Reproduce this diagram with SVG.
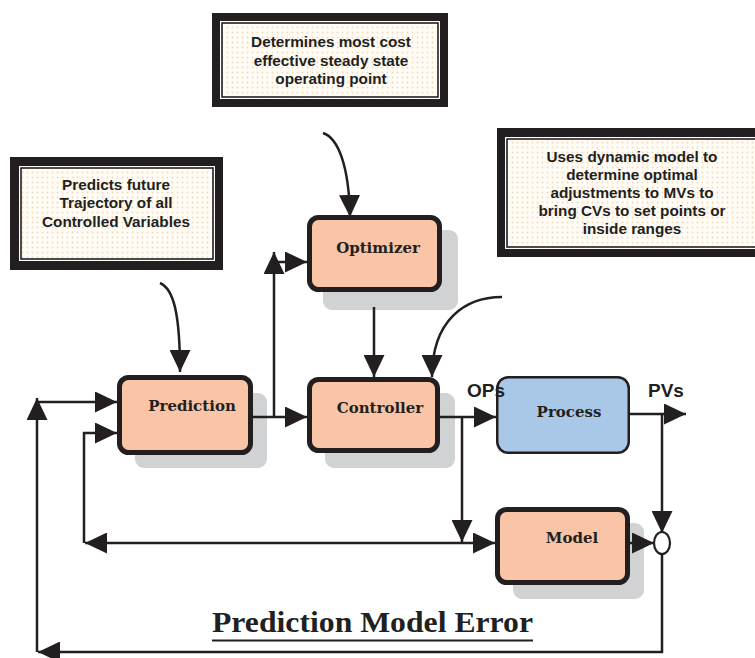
<svg xmlns="http://www.w3.org/2000/svg" width="755" height="658" viewBox="0 0 755 658">
  <defs>
    <pattern id="dots" width="5" height="5" patternUnits="userSpaceOnUse">
      <rect width="5" height="5" fill="#fffcf6"/>
      <circle cx="2.5" cy="2.5" r="0.9" fill="#f4d8b6"/>
    </pattern>
    <marker id="ah" markerUnits="userSpaceOnUse" markerWidth="22" markerHeight="21" refX="22" refY="10.5" orient="auto-start-reverse" viewBox="0 0 22 21">
      <path d="M0,0 L22,10.5 L0,21 Z" fill="#231f20"/>
    </marker>
    <style>
      .frame { fill: #231f20; }
      .gap { fill: #ffffff; }
      .inner { fill: url(#dots); stroke: #231f20; stroke-width: 1.6; }
      .note { font-family: "Liberation Sans", Arial, sans-serif; font-weight: bold; font-size: 15.3px; fill: #231f20; text-anchor: middle; }
      .shadow { fill: #d1d2d4; }
      .box { fill: #fac5a6; stroke: #231f20; stroke-width: 5; }
      .proc { fill: #a9c8e7; stroke: #231f20; stroke-width: 2.5; }
      .lbl { font-family: "DejaVu Serif", "Liberation Serif", serif; font-weight: bold; font-size: 15px; fill: #231f20; text-anchor: middle; }
      .sig { font-family: "Liberation Sans", Arial, sans-serif; font-weight: bold; font-size: 19px; fill: #231f20; }
      .wire { fill: none; stroke: #231f20; stroke-width: 2.5; }
      .arr { marker-end: url(#ah); }
    </style>
  </defs>

  <rect width="755" height="658" fill="#ffffff"/>

  <!-- callout: steady-state optimiser role -->
  <g id="note-optimizer">
    <rect class="frame" x="212" y="13" width="236" height="94"/>
    <rect class="gap" x="220" y="21" width="220" height="78"/>
    <rect class="inner" x="222" y="23" width="216" height="74"/>
    <text class="note" x="331" y="47">Determines most cost</text>
    <text class="note" x="331" y="66">effective steady state</text>
    <text class="note" x="331" y="84">operating point</text>
  </g>

  <!-- callout: prediction role -->
  <g id="note-prediction">
    <rect class="frame" x="10" y="157" width="213" height="113"/>
    <rect class="gap" x="19" y="166" width="196" height="95"/>
    <rect class="inner" x="21" y="168" width="192" height="91"/>
    <text class="note" x="116" y="190">Predicts future</text>
    <text class="note" x="116" y="208">Trajectory of all</text>
    <text class="note" x="116" y="227">Controlled Variables</text>
  </g>

  <!-- callout: controller role -->
  <g id="note-controller">
    <rect class="frame" x="497" y="128" width="273" height="129"/>
    <rect class="gap" x="505" y="137" width="260" height="112"/>
    <rect class="inner" x="507" y="139" width="256" height="108"/>
    <text class="note" x="632" y="162">Uses dynamic model to</text>
    <text class="note" x="632" y="180">determine optimal</text>
    <text class="note" x="632" y="198">adjustments to MVs to</text>
    <text class="note" x="632" y="216">bring CVs to set points or</text>
    <text class="note" x="632" y="234">inside ranges</text>
  </g>

  <!-- blocks -->
  <g id="optimizer">
    <rect class="shadow" x="323" y="230" width="135" height="80" rx="9"/>
    <rect class="box" x="309.5" y="217.5" width="130" height="72" rx="9"/>
    <text class="lbl" x="378" y="253">Optimizer</text>
  </g>

  <g id="prediction">
    <rect class="shadow" x="135" y="393" width="132" height="75" rx="9"/>
    <rect class="box" x="119.5" y="377.5" width="131" height="75" rx="9"/>
    <text class="lbl" x="192" y="411">Prediction</text>
  </g>

  <g id="controller">
    <rect class="shadow" x="325" y="393" width="130" height="75" rx="9"/>
    <rect class="box" x="309.5" y="379.5" width="128" height="71" rx="9"/>
    <text class="lbl" x="380" y="413">Controller</text>
  </g>

  <g id="process">
    <rect class="proc" x="497.25" y="377.25" width="131.5" height="75.5" rx="11"/>
    <text class="lbl" x="569" y="417">Process</text>
  </g>

  <g id="model">
    <rect class="shadow" x="513" y="523" width="131" height="76" rx="9"/>
    <rect class="box" x="497.5" y="509.5" width="130" height="73" rx="9"/>
    <text class="lbl" x="572" y="543">Model</text>
  </g>

  <g id="summing-junction">
    <ellipse cx="662" cy="543" rx="8" ry="11" fill="#ffffff" stroke="#231f20" stroke-width="2.2"/>
  </g>

  <!-- connectors -->
  <g id="connectors">
    <path class="wire arr" d="M374,307 V377"/>
    <path class="wire arr" d="M253,417 H307"/>
    <path class="wire arr" d="M274,417 V252"/>
    <path class="wire arr" d="M274,262 H307"/>
    <path class="wire arr" d="M440,417 H496"/>
    <path class="wire arr" d="M462,417 V542"/>
    <path class="wire arr" d="M85,543 H495" marker-start="url(#ah)"/>
    <path class="wire arr" d="M84,543 V433 H117"/>
    <path class="wire arr" d="M630,414 H686"/>
    <path class="wire arr" d="M662,414 V533"/>
    <path class="wire arr" d="M630,543 H654"/>
    <path class="wire arr" d="M662,554 V652 H38"/>
    <path class="wire arr" d="M37,652 V398"/>
    <path class="wire arr" d="M37,402 H117"/>
    <path class="wire arr" d="M160,283 C174,289 180,315 180,372"/>
    <path class="wire arr" d="M323,133 C338,138 349,165 350,217"/>
    <path class="wire arr" d="M502,297 C465,297 432,320 432,377"/>
  </g>

  <!-- signal labels -->
  <text class="sig" x="467" y="397">OPs</text>
  <text class="sig" x="648" y="397">PVs</text>

  <!-- title -->
  <g id="title">
    <text x="212" y="632" font-family="'Liberation Serif', 'Times New Roman', serif" font-weight="bold" font-size="30" fill="#231f20" textLength="321" lengthAdjust="spacingAndGlyphs">Prediction Model Error</text>
    <line x1="212" y1="640.5" x2="533" y2="640.5" stroke="#231f20" stroke-width="2.2"/>
  </g>
</svg>
